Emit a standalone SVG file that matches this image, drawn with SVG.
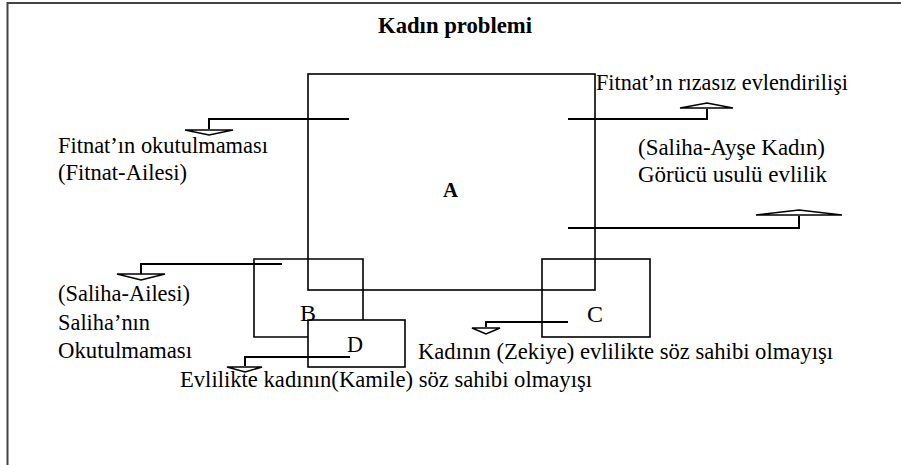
<svg xmlns="http://www.w3.org/2000/svg" width="901" height="465" viewBox="0 0 901 465">
<style>
.txt text{font-size:24px;fill:#000}
.t{font-weight:bold}
.box{fill:none;stroke:#000;stroke-width:1.6}
.conn{fill:none;stroke:#000;stroke-width:2}
.head{fill:#fff;stroke:#000;stroke-width:1.6;stroke-linejoin:miter}
</style>
<rect width="901" height="465" fill="#fff"/>
<path d="M7.5 465 V3 H901" fill="none" stroke="#444" stroke-width="2"/>
<g class="txt" font-family="Liberation Serif, DejaVu Serif, serif">
<text class="t" x="378" y="33" textLength="154" lengthAdjust="spacingAndGlyphs">Kadın problemi</text>
<g id="A">
<rect class="box" x="308" y="74" width="287" height="216" stroke-width="2"/>
<text class="t" x="443" y="197" style="font-size:20px" textLength="15" lengthAdjust="spacingAndGlyphs">A</text>
</g>
<g id="B">
<path class="box" d="M308 259 H363 V320 M308 337 H254 V259 H308"/>
<text x="300" y="321" textLength="16" lengthAdjust="spacingAndGlyphs">B</text>
</g>
<g id="D">
<rect class="box" x="308" y="320" width="97" height="47"/>
<text x="347" y="352" textLength="16" lengthAdjust="spacingAndGlyphs">D</text>
</g>
<g id="C">
<rect class="box" x="542" y="259" width="108" height="78"/>
<text x="587" y="322" textLength="16" lengthAdjust="spacingAndGlyphs">C</text>
</g>
<g id="labels">
<text x="58" y="153" textLength="210" lengthAdjust="spacingAndGlyphs">Fitnat’ın okutulmaması</text>
<text x="58" y="180" textLength="129" lengthAdjust="spacingAndGlyphs">(Fitnat-Ailesi)</text>
<text x="596" y="90" textLength="252" lengthAdjust="spacingAndGlyphs">Fitnat’ın rızasız evlendirilişi</text>
<text x="638" y="155" textLength="187" lengthAdjust="spacingAndGlyphs">(Saliha-Ayşe Kadın)</text>
<text x="638" y="182" textLength="189" lengthAdjust="spacingAndGlyphs">Görücü usulü evlilik</text>
<text x="58" y="301" textLength="132" lengthAdjust="spacingAndGlyphs">(Saliha-Ailesi)</text>
<text x="58" y="330" textLength="92" lengthAdjust="spacingAndGlyphs">Saliha’nın</text>
<text x="58" y="358" textLength="134" lengthAdjust="spacingAndGlyphs">Okutulmaması</text>
<text x="418" y="359" textLength="415" lengthAdjust="spacingAndGlyphs">Kadının (Zekiye) evlilikte söz sahibi olmayışı</text>
<text x="180" y="387" textLength="412" lengthAdjust="spacingAndGlyphs">Evlilikte kadının(Kamile) söz sahibi olmayışı</text>
</g>
</g>
<g id="connectors">
<path class="conn" d="M349 119 H209 V129"/>
<polygon class="head" points="185,130 233,130 209,135"/>
<path class="conn" d="M568 119 H707 V109"/>
<polygon class="head" points="680,108 733,108 707,103"/>
<path class="conn" d="M568 228 H799 V216"/>
<polygon class="head" points="756,215 842,215 799,210"/>
<path class="conn" d="M282 264 H141 V274"/>
<polygon class="head" points="117,274 165,274 141,280"/>
<path class="conn" d="M350 357 H245 V366"/>
<polygon class="head" points="227,367 262,367 245,372"/>
<path class="conn" d="M568 322 H486 V327"/>
<polygon class="head" points="472,328 500,328 486,334"/>
</g>
</svg>
